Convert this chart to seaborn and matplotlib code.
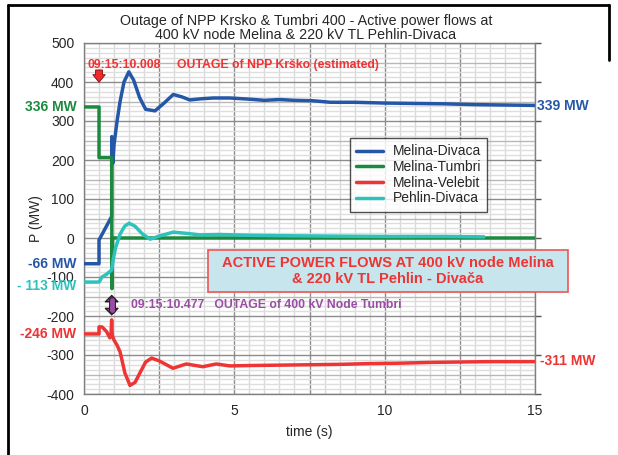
import numpy as np
import pandas as pd
import seaborn as sns
import matplotlib.pyplot as plt
import matplotlib.patheffects as pe
from matplotlib.lines import Line2D
from matplotlib.patches import Rectangle

# ---- data ----
series_names = ["Melina-Divaca", "Melina-Tumbri", "Melina-Velebit", "Pehlin-Divaca"]

t_divaca = [0, 0.5, 0.5, 0.92, 0.925, 0.96, 1.0, 1.1, 1.2, 1.33, 1.49, 1.65, 1.85, 2.05, 2.36,
            2.65, 2.97, 3.25, 3.52, 3.9, 4.3, 4.85, 5.5, 6.0, 6.5, 7.0, 7.6, 8.2, 9.0, 10.0,
            11.0, 12.0, 13.0, 14.0, 15.0]
p_divaca = [-66, -66, -5, 55, 260, 192, 240, 300, 350, 400, 426, 405, 360, 330, 326,
            345, 368, 362, 354, 357, 359, 359, 356, 353, 355, 353, 352, 348, 348, 346,
            345, 344, 342, 341, 340]

t_tumbri = [0, 0.5, 0.5, 0.92, 0.93, 0.95, 15.0]
p_tumbri = [336, 336, 206, 206, -130, 0, 0]

t_velebit = [0, 0.5, 0.5, 0.6, 0.75, 0.86, 0.9, 0.92, 0.94, 1.0, 1.1, 1.2, 1.36, 1.53, 1.7,
             1.86, 2.05, 2.25, 2.5, 2.96, 3.4, 3.95, 4.4, 4.85, 5.5, 6.5, 7.5, 8.5, 9.5,
             10.5, 11.5, 12.5, 13.5, 14.5, 15.0]
p_velebit = [-246, -246, -228, -228, -240, -256, -245, -210, -250, -262, -275, -292, -346, -378, -370,
             -346, -318, -308, -315, -334, -323, -330, -323, -328, -327, -326, -325, -324, -322,
             -321, -319, -318, -317, -317, -317]

t_pehlin = [0, 0.5, 0.6, 0.75, 0.92, 0.97, 1.05, 1.2, 1.35, 1.5, 1.7, 1.95, 2.2, 2.5, 2.97,
            3.4, 3.85, 4.5, 5.5, 6.5, 8.0, 10.0, 12.0, 13.3]
p_pehlin = [-113, -113, -100, -93, -82, -56, -25, 10, 30, 38, 30, 10, -3, 5, 15,
            12, 8, 9, 7, 6, 5, 4, 4, 3]

x_ticks = [0, 5, 10, 15]
y_ticks = [-400, -300, -200, -100, 0, 100, 200, 300, 400, 500]

colors = {"Melina-Divaca": "#2557A7", "Melina-Tumbri": "#1B8A3E",
          "Melina-Velebit": "#EE3434", "Pehlin-Divaca": "#2EC2BC"}

frames = []
for name, tt, pp in zip(series_names,
                        [t_divaca, t_tumbri, t_velebit, t_pehlin],
                        [p_divaca, p_tumbri, p_velebit, p_pehlin]):
    frames.append(pd.DataFrame({"time": tt, "P": pp, "series": name}))
df = pd.concat(frames, ignore_index=True)

# ---- figure ----
sns.set_style("white")
plt.rcParams["font.family"] = ["Liberation Sans", "DejaVu Sans"]

fig = plt.figure(figsize=(6.18, 4.55), dpi=100)
ax = fig.add_axes([84 / 618, 1 - 394 / 455, (535 - 84) / 618, (394 - 43) / 455])

# grid
for xv in np.arange(0, 15.01, 0.5):
    major = abs(xv / 2.5 - round(xv / 2.5)) < 1e-6
    ax.axvline(xv, color="#8C8C8C" if major else "#DADADA", lw=1.0, zorder=0)
for yv in np.arange(-400, 500.01, 12.5):
    if abs(yv % 100) < 1e-6:
        c = "#8C8C8C"
    elif abs(yv % 50) < 1e-6:
        c = "#B8B8B8"
    else:
        c = "#DEDEDE"
    ax.axhline(yv, color=c, lw=1.0, zorder=0)

sns.lineplot(data=df, x="time", y="P", hue="series", hue_order=series_names,
             palette=colors, estimator=None, sort=False, units="series",
             lw=2.5, ax=ax, legend=False, zorder=3)

ax.set_xlim(0, 15)
ax.set_ylim(-400, 500)
ax.set_xticks(x_ticks)
ax.set_yticks(y_ticks)
ax.set_xticklabels([str(v) for v in x_ticks], fontsize=10)
ax.set_yticklabels([str(v) for v in y_ticks], fontsize=10)
ax.tick_params(axis="both", direction="out", length=4, width=1, color="#555555",
               right=True, pad=3)
for s in ["left", "bottom", "right", "top"]:
    ax.spines[s].set_color("#808080")
    ax.spines[s].set_linewidth(1.0)
ax.set_xlabel("time (s)", fontsize=10, labelpad=5)
ax.set_ylabel("P (MW)", fontsize=10, labelpad=2)

fig.text(0.495, 1 - 42 / 455, "Outage of NPP Krsko & Tumbri 400 - Active power flows at\n"
         "400 kV node Melina & 220 kV TL Pehlin-Divaca",
         ha="center", va="bottom", fontsize=10.3, linespacing=1.0)

# legend
handles = [Line2D([], [], color=colors[n], lw=2.5) for n in series_names]
leg = ax.legend(handles, series_names, loc="upper left", bbox_to_anchor=(0.590, 0.729),
                borderaxespad=0, fontsize=10, frameon=True, fancybox=False,
                edgecolor="#222222", handlelength=1.9, borderpad=0.45,
                labelspacing=0.12, handletextpad=0.7)
leg.get_frame().set_linewidth(1.0)
leg.set_zorder(6)

# value labels
bold = dict(fontweight="bold", fontsize=10, clip_on=False)
ax.text(-0.25, 336, "336 MW", color=colors["Melina-Tumbri"], ha="right", va="center", **bold)
ax.text(-0.25, -66, "-66 MW", color=colors["Melina-Divaca"], ha="right", va="center", **bold)
ax.text(-0.25, -122, "- 113 MW", color=colors["Pehlin-Divaca"], ha="right", va="center", **bold)
ax.text(-0.25, -246, "-246 MW", color=colors["Melina-Velebit"], ha="right", va="center", **bold)
ax.text(15.05, 339, "339 MW", color=colors["Melina-Divaca"], ha="left", va="center", **bold)
ax.text(15.15, -316, "-311 MW", color=colors["Melina-Velebit"], ha="left", va="center", **bold)

# event annotations
ax.text(0.1, 444, "09:15:10.008", color="#EE3434", fontweight="bold", fontsize=8.8,
        ha="left", va="center", zorder=5)
ax.text(3.1, 444, "OUTAGE of NPP Krško (estimated)", color="#EE3434", fontweight="bold",
        fontsize=8.8, ha="left", va="center", zorder=5)
ax.annotate("", xy=(0.5, 392), xytext=(0.5, 438),
            arrowprops=dict(arrowstyle="simple,head_width=0.9,head_length=0.55,tail_width=0.5",
                            fc="#EE2A2A", ec="#7A1010", lw=0.6), zorder=5)

purple = "#9B4DA6"
ax.annotate("", xy=(0.92, -199), xytext=(0.92, -145),
            arrowprops=dict(arrowstyle="<|-|>,head_width=0.45,head_length=0.45",
                            fc=purple, ec="#222222", lw=1.0, shrinkA=0, shrinkB=0), zorder=5)
ax.plot([0.92, 0.92], [-160, -184], color=purple, lw=3.5, zorder=6,
        path_effects=[pe.Stroke(linewidth=5, foreground="#222222"), pe.Normal()])
ax.text(1.55, -172, "09:15:10.477   OUTAGE of 400 kV Node Tumbri", color=purple,
        fontweight="bold", fontsize=8.8, ha="left", va="center", zorder=5)

# highlighted box
box_x0 = (208 - 84) / 451 * 15
box_x1 = (568 - 84) / 451 * 15
box_y0, box_y1 = -138, -31
ax.add_patch(Rectangle((box_x0, box_y0), box_x1 - box_x0, box_y1 - box_y0,
                       fc="#C6E5EC", ec="#EE5555", lw=1.2, zorder=5, clip_on=False))
ax.text((box_x0 + box_x1) / 2, (box_y0 + box_y1) / 2,
        "ACTIVE POWER FLOWS AT 400 kV node Melina\n& 220 kV TL Pehlin - Divača",
        color="#EE3434", fontweight="bold", fontsize=10.5, ha="center", va="center",
        linespacing=1.25, zorder=6, clip_on=False)

# figure frame
fig.add_artist(Line2D([8 / 618, 8 / 618], [0, 1 - 5 / 455], color="black", lw=2,
                      transform=fig.transFigure))
fig.add_artist(Line2D([8 / 618, 609 / 618], [1 - 5 / 455, 1 - 5 / 455], color="black", lw=2,
                      transform=fig.transFigure))
fig.add_artist(Line2D([609 / 618, 609 / 618], [1 - 5 / 455, 1 - 60 / 455], color="black", lw=2,
                      transform=fig.transFigure))

fig.savefig("out.png", dpi=100)
